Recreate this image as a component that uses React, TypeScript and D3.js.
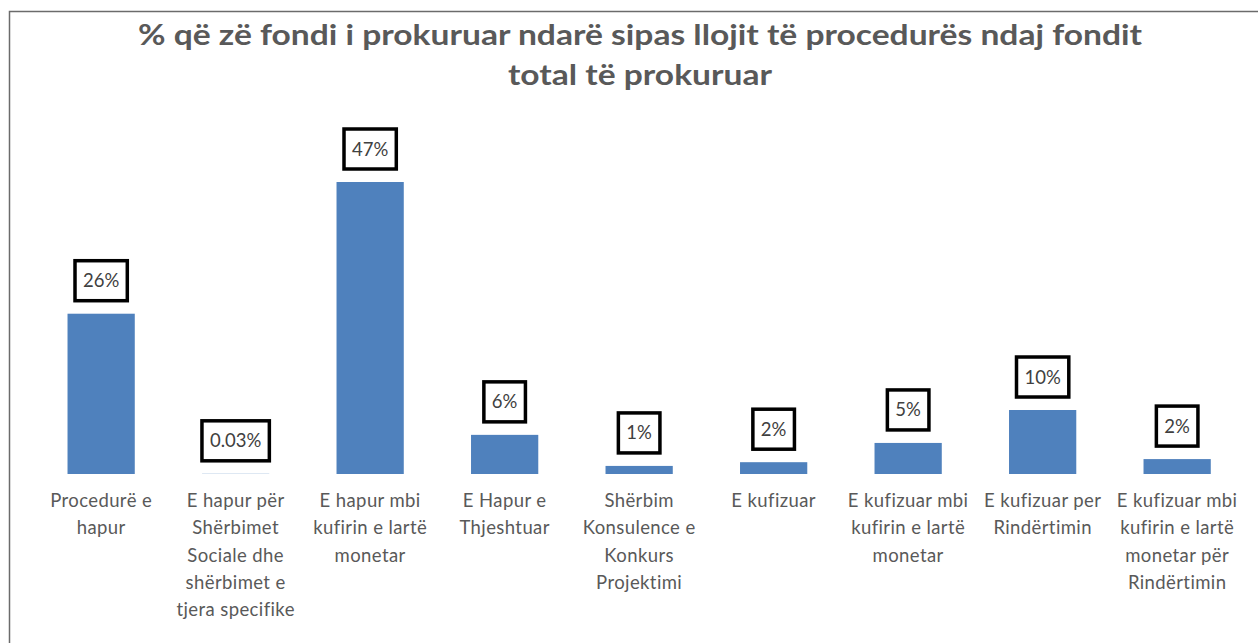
import React, { useEffect, useRef } from "react";
import * as d3 from "d3";

const titleLines = [
  "% që zë fondi i prokuruar ndarë sipas llojit të procedurës ndaj fondit",
  "total të prokuruar",
];

const categories = [
  ["Procedurë e", "hapur"],
  ["E hapur për", "Shërbimet", "Sociale dhe", "shërbimet e", "tjera specifike"],
  ["E hapur mbi", "kufirin e lartë", "monetar"],
  ["E Hapur e", "Thjeshtuar"],
  ["Shërbim", "Konsulence e", "Konkurs", "Projektimi"],
  ["E kufizuar"],
  ["E kufizuar mbi", "kufirin e lartë", "monetar"],
  ["E kufizuar per", "Rindërtimin"],
  ["E kufizuar mbi", "kufirin e lartë", "monetar për", "Rindërtimin"],
];

const values = [25.8, 0.03, 47, 6.3, 1.3, 1.9, 5.0, 10.3, 2.4];

const W = 1258;
const H = 643;

function fmt(v: number): string {
  return v < 0.1 ? d3.format(".2f")(v) + "%" : Math.round(v) + "%";
}

export default function App() {
  const ref = useRef<SVGSVGElement | null>(null);

  useEffect(() => {
    document.body.style.margin = "0";
    const svg = d3.select(ref.current);
    svg.selectAll("*").remove();

    svg.append("rect").attr("width", W).attr("height", H).attr("fill", "#ffffff");

    // frame (left and top edges visible)
    svg
      .append("path")
      .attr("d", `M9.5,${H} V11.5 H${W}`)
      .attr("fill", "none")
      .attr("stroke", "#6b6b6b")
      .attr("stroke-width", 1.5);

    // title
    const titleWidths = [1004, 264];
    titleLines.forEach((t, i) => {
      svg
        .append("text")
        .attr("x", 640)
        .attr("y", 45 + i * 40)
        .attr("text-anchor", "middle")
        .attr("font-family", "Lato, 'Open Sans', sans-serif")
        .attr("font-weight", 700)
        .attr("font-size", 28)
        .attr("fill", "#595959")
        .attr("textLength", titleWidths[i])
        .attr("lengthAdjust", "spacingAndGlyphs")
        .text(t);
    });

    const x = d3
      .scaleBand<number>()
      .domain(values.map((_, i) => i))
      .range([33.9, 1244.4])
      .paddingInner(0.5)
      .paddingOuter(0.25);

    const y = d3.scaleLinear().domain([0, 50]).range([474, 474 - 50 * (292 / 47)]);

    // bars
    svg
      .append("g")
      .selectAll("rect")
      .data(values)
      .join("rect")
      .attr("x", (_, i) => x(i)!)
      .attr("y", (d) => y(d))
      .attr("width", x.bandwidth())
      .attr("height", (d) => y(0) - y(d))
      .attr("fill", "#4f81bd");

    // data labels with boxes
    const labelG = svg.append("g");
    values.forEach((v, i) => {
      const cx = x(i)! + x.bandwidth() / 2;
      const boxH = 40;
      const gap = 13;
      const boxBottom = y(v) - gap;
      const g = labelG.append("g");
      const rect = g.append("rect");
      const txt = g
        .append("text")
        .attr("x", cx)
        .attr("y", boxBottom - boxH / 2 + 6.5)
        .attr("text-anchor", "middle")
        .attr("font-family", "Lato, 'Open Sans', sans-serif")
        .attr("font-size", 18.5)
        .attr("fill", "#404040")
        .text(fmt(v));
      const bw = (txt.node() as SVGTextElement).getComputedTextLength();
      const w = bw + 16;
      rect
        .attr("x", cx - w / 2)
        .attr("y", boxBottom - boxH)
        .attr("width", w)
        .attr("height", boxH)
        .attr("fill", "#ffffff")
        .attr("stroke", "#000000")
        .attr("stroke-width", 3.5);
    });

    // category labels
    const catG = svg.append("g");
    categories.forEach((lines, i) => {
      const cx = x(i)! + x.bandwidth() / 2;
      const t = catG
        .append("text")
        .attr("text-anchor", "middle")
        .attr("font-family", "Lato, 'Open Sans', sans-serif")
        .attr("font-size", 18.5)
        .attr("letter-spacing", 0.4)
        .attr("fill", "#595959");
      lines.forEach((ln, j) => {
        t.append("tspan").attr("x", cx).attr("y", 507 + j * 27.3).text(ln);
      });
    });
  }, []);

  return <svg ref={ref} width={W} height={H} style={{ display: "block" }} />;
}
